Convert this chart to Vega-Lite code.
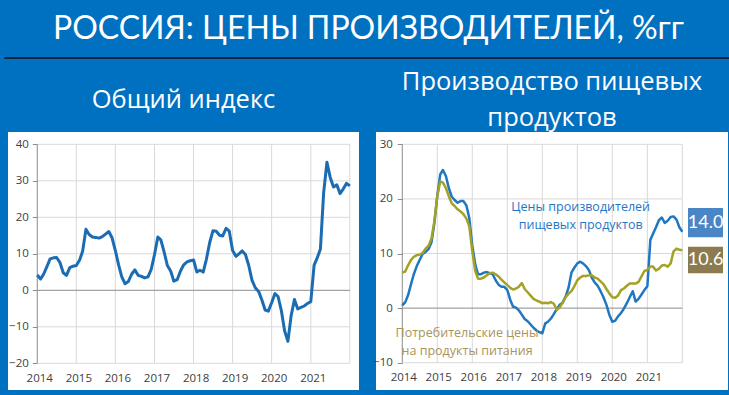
{
  "$schema": "https://vega.github.io/schema/vega-lite/v6.json",
  "background": "#0070c0",
  "padding": {"left": 0, "top": 12, "right": 1, "bottom": 1},
  "bounds": "flush",
  "spacing": 70,
  "config": {
    "view": {"stroke": null},
    "axis": {"labelFont": "Open Sans", "labelColor": "#404040", "labelFontSize": 11.5, "domain": false, "grid": false, "zindex": 1},
    "title": {"color": "white", "fontWeight": "normal", "anchor": "middle"}
  },
  "datasets": {
    "L": [
      {"d": "2014/01/01", "v": 4.2}, {"d": "2014/02/01", "v": 3.1}, {"d": "2014/03/01", "v": 4.4}, {"d": "2014/04/01", "v": 6.5}, {"d": "2014/05/01", "v": 8.6}, {"d": "2014/06/01", "v": 8.9}, {"d": "2014/07/01", "v": 9.0}, {"d": "2014/08/01", "v": 7.6}, {"d": "2014/09/01", "v": 4.8}, {"d": "2014/10/01", "v": 4.1}, {"d": "2014/11/01", "v": 6.2}, {"d": "2014/12/01", "v": 6.6},
      {"d": "2015/01/01", "v": 6.8}, {"d": "2015/02/01", "v": 8.3}, {"d": "2015/03/01", "v": 10.7}, {"d": "2015/04/01", "v": 16.7}, {"d": "2015/05/01", "v": 15.3}, {"d": "2015/06/01", "v": 14.6}, {"d": "2015/07/01", "v": 14.5}, {"d": "2015/08/01", "v": 14.3}, {"d": "2015/09/01", "v": 14.7}, {"d": "2015/10/01", "v": 15.4}, {"d": "2015/11/01", "v": 16.1}, {"d": "2015/12/01", "v": 14.4},
      {"d": "2016/01/01", "v": 10.9}, {"d": "2016/02/01", "v": 6.9}, {"d": "2016/03/01", "v": 3.7}, {"d": "2016/04/01", "v": 1.8}, {"d": "2016/05/01", "v": 2.4}, {"d": "2016/06/01", "v": 4.4}, {"d": "2016/07/01", "v": 5.6}, {"d": "2016/08/01", "v": 4.1}, {"d": "2016/09/01", "v": 3.8}, {"d": "2016/10/01", "v": 3.4}, {"d": "2016/11/01", "v": 3.7}, {"d": "2016/12/01", "v": 5.7},
      {"d": "2017/01/01", "v": 9.8}, {"d": "2017/02/01", "v": 14.6}, {"d": "2017/03/01", "v": 13.8}, {"d": "2017/04/01", "v": 10.5}, {"d": "2017/05/01", "v": 6.8}, {"d": "2017/06/01", "v": 5.3}, {"d": "2017/07/01", "v": 2.5}, {"d": "2017/08/01", "v": 2.9}, {"d": "2017/09/01", "v": 5.3}, {"d": "2017/10/01", "v": 7.0}, {"d": "2017/11/01", "v": 7.8}, {"d": "2017/12/01", "v": 8.1},
      {"d": "2018/01/01", "v": 8.3}, {"d": "2018/02/01", "v": 5.0}, {"d": "2018/03/01", "v": 5.5}, {"d": "2018/04/01", "v": 5.0}, {"d": "2018/05/01", "v": 8.5}, {"d": "2018/06/01", "v": 13.1}, {"d": "2018/07/01", "v": 16.3}, {"d": "2018/08/01", "v": 16.2}, {"d": "2018/09/01", "v": 15.1}, {"d": "2018/10/01", "v": 14.9}, {"d": "2018/11/01", "v": 17.0}, {"d": "2018/12/01", "v": 16.2},
      {"d": "2019/01/01", "v": 10.9}, {"d": "2019/02/01", "v": 9.3}, {"d": "2019/03/01", "v": 10.0}, {"d": "2019/04/01", "v": 10.8}, {"d": "2019/05/01", "v": 9.8}, {"d": "2019/06/01", "v": 6.8}, {"d": "2019/07/01", "v": 2.8}, {"d": "2019/08/01", "v": 0.7}, {"d": "2019/09/01", "v": -0.3}, {"d": "2019/10/01", "v": -2.6}, {"d": "2019/11/01", "v": -5.4}, {"d": "2019/12/01", "v": -5.7},
      {"d": "2020/01/01", "v": -3.4}, {"d": "2020/02/01", "v": -0.9}, {"d": "2020/03/01", "v": -1.7}, {"d": "2020/04/01", "v": -5.6}, {"d": "2020/05/01", "v": -11.1}, {"d": "2020/06/01", "v": -14.0}, {"d": "2020/07/01", "v": -7.0}, {"d": "2020/08/01", "v": -2.5}, {"d": "2020/09/01", "v": -5.1}, {"d": "2020/10/01", "v": -4.7}, {"d": "2020/11/01", "v": -4.3}, {"d": "2020/12/01", "v": -3.6},
      {"d": "2021/01/01", "v": -3.1}, {"d": "2021/02/01", "v": 6.9}, {"d": "2021/03/01", "v": 8.8}, {"d": "2021/04/01", "v": 11.3}, {"d": "2021/05/01", "v": 26.7}, {"d": "2021/06/01", "v": 35.1}, {"d": "2021/07/01", "v": 31.0}, {"d": "2021/08/01", "v": 28.3}, {"d": "2021/09/01", "v": 28.9}, {"d": "2021/10/01", "v": 26.5}, {"d": "2021/11/01", "v": 27.8}, {"d": "2021/12/01", "v": 29.3},
      {"d": "2022/01/01", "v": 28.6}
    ],
    "R": [
      {"d": "2014/01/01", "p": 0.5, "c": 6.5}, {"d": "2014/02/01", "p": 1.1, "c": 6.7}, {"d": "2014/03/01", "p": 2.3, "c": 7.8}, {"d": "2014/04/01", "p": 4.3, "c": 8.8}, {"d": "2014/05/01", "p": 6.2, "c": 9.4}, {"d": "2014/06/01", "p": 7.7, "c": 9.7}, {"d": "2014/07/01", "p": 8.8, "c": 9.8}, {"d": "2014/08/01", "p": 9.9, "c": 10.1}, {"d": "2014/09/01", "p": 10.3, "c": 10.9}, {"d": "2014/10/01", "p": 10.8, "c": 11.4}, {"d": "2014/11/01", "p": 12.0, "c": 12.7}, {"d": "2014/12/01", "p": 15.5, "c": 15.8},
      {"d": "2015/01/01", "p": 20.5, "c": 20.5}, {"d": "2015/02/01", "p": 24.5, "c": 23.2}, {"d": "2015/03/01", "p": 25.3, "c": 23.0}, {"d": "2015/04/01", "p": 24.2, "c": 22.0}, {"d": "2015/05/01", "p": 22.0, "c": 20.5}, {"d": "2015/06/01", "p": 20.4, "c": 19.2}, {"d": "2015/07/01", "p": 19.8, "c": 18.7}, {"d": "2015/08/01", "p": 19.3, "c": 18.1}, {"d": "2015/09/01", "p": 19.6, "c": 17.7}, {"d": "2015/10/01", "p": 19.6, "c": 17.2}, {"d": "2015/11/01", "p": 18.8, "c": 16.4}, {"d": "2015/12/01", "p": 16.5, "c": 15.0},
      {"d": "2016/01/01", "p": 11.5, "c": 10.5}, {"d": "2016/02/01", "p": 8.0, "c": 6.8}, {"d": "2016/03/01", "p": 6.2, "c": 5.4}, {"d": "2016/04/01", "p": 6.2, "c": 5.4}, {"d": "2016/05/01", "p": 6.5, "c": 5.6}, {"d": "2016/06/01", "p": 6.6, "c": 6.0}, {"d": "2016/07/01", "p": 6.4, "c": 6.4}, {"d": "2016/08/01", "p": 6.2, "c": 6.5}, {"d": "2016/09/01", "p": 5.1, "c": 6.2}, {"d": "2016/10/01", "p": 4.3, "c": 5.8}, {"d": "2016/11/01", "p": 3.9, "c": 5.2}, {"d": "2016/12/01", "p": 3.9, "c": 4.7},
      {"d": "2017/01/01", "p": 3.3, "c": 4.2}, {"d": "2017/02/01", "p": 1.5, "c": 3.7}, {"d": "2017/03/01", "p": 0.3, "c": 3.4}, {"d": "2017/04/01", "p": 0.1, "c": 3.6}, {"d": "2017/05/01", "p": -0.4, "c": 3.9}, {"d": "2017/06/01", "p": -1.2, "c": 4.6}, {"d": "2017/07/01", "p": -2.0, "c": 3.5}, {"d": "2017/08/01", "p": -2.4, "c": 2.9}, {"d": "2017/09/01", "p": -3.0, "c": 2.3}, {"d": "2017/10/01", "p": -3.6, "c": 1.7}, {"d": "2017/11/01", "p": -4.1, "c": 1.4}, {"d": "2017/12/01", "p": -4.4, "c": 1.2},
      {"d": "2018/01/01", "p": -4.6, "c": 0.9}, {"d": "2018/02/01", "p": -2.8, "c": 1.0}, {"d": "2018/03/01", "p": -2.5, "c": 0.9}, {"d": "2018/04/01", "p": -1.9, "c": 1.1}, {"d": "2018/05/01", "p": -1.1, "c": 0.8}, {"d": "2018/06/01", "p": -0.2, "c": -0.3}, {"d": "2018/07/01", "p": 0.6, "c": 0.1}, {"d": "2018/08/01", "p": 1.0, "c": 1.0}, {"d": "2018/09/01", "p": 2.1, "c": 2.0}, {"d": "2018/10/01", "p": 3.7, "c": 2.6}, {"d": "2018/11/01", "p": 6.5, "c": 3.1}, {"d": "2018/12/01", "p": 7.4, "c": 4.0},
      {"d": "2019/01/01", "p": 8.2, "c": 5.1}, {"d": "2019/02/01", "p": 8.5, "c": 5.6}, {"d": "2019/03/01", "p": 8.2, "c": 5.9}, {"d": "2019/04/01", "p": 7.7, "c": 5.9}, {"d": "2019/05/01", "p": 7.0, "c": 6.0}, {"d": "2019/06/01", "p": 5.6, "c": 6.0}, {"d": "2019/07/01", "p": 4.7, "c": 5.6}, {"d": "2019/08/01", "p": 4.1, "c": 5.4}, {"d": "2019/09/01", "p": 3.1, "c": 4.9}, {"d": "2019/10/01", "p": 2.0, "c": 4.4}, {"d": "2019/11/01", "p": 0.6, "c": 3.5}, {"d": "2019/12/01", "p": -1.2, "c": 2.7},
      {"d": "2020/01/01", "p": -2.5, "c": 2.0}, {"d": "2020/02/01", "p": -2.3, "c": 1.9}, {"d": "2020/03/01", "p": -1.5, "c": 2.3}, {"d": "2020/04/01", "p": -0.9, "c": 3.3}, {"d": "2020/05/01", "p": -0.1, "c": 3.6}, {"d": "2020/06/01", "p": 0.9, "c": 4.1}, {"d": "2020/07/01", "p": 2.0, "c": 4.5}, {"d": "2020/08/01", "p": 3.1, "c": 4.5}, {"d": "2020/09/01", "p": 1.2, "c": 4.5}, {"d": "2020/10/01", "p": 1.7, "c": 4.8}, {"d": "2020/11/01", "p": 2.5, "c": 5.8}, {"d": "2020/12/01", "p": 3.3, "c": 6.8},
      {"d": "2021/01/01", "p": 4.0, "c": 7.0}, {"d": "2021/02/01", "p": 12.5, "c": 7.6}, {"d": "2021/03/01", "p": 13.6, "c": 7.6}, {"d": "2021/04/01", "p": 14.8, "c": 6.9}, {"d": "2021/05/01", "p": 16.1, "c": 7.2}, {"d": "2021/06/01", "p": 16.6, "c": 7.8}, {"d": "2021/07/01", "p": 15.6, "c": 7.9}, {"d": "2021/08/01", "p": 16.0, "c": 7.6}, {"d": "2021/09/01", "p": 16.7, "c": 8.2}, {"d": "2021/10/01", "p": 16.8, "c": 10.4}, {"d": "2021/11/01", "p": 16.2, "c": 10.9}, {"d": "2021/12/01", "p": 14.8, "c": 10.7},
      {"d": "2022/01/01", "p": 14.0, "c": 10.6}
    ],
    "years": [
      {"d": "2015/01/01"}, {"d": "2016/01/01"}, {"d": "2017/01/01"}, {"d": "2018/01/01"}, {"d": "2019/01/01"}, {"d": "2020/01/01"}, {"d": "2021/01/01"}, {"d": "2022/01/01"}
    ],
    "gridL": [{"v": -20}, {"v": -10}, {"v": 10}, {"v": 20}, {"v": 30}, {"v": 40}],
    "gridR": [{"v": -10}, {"v": 10}, {"v": 20}, {"v": 30}],
    "one": [{}]
  },
  "vconcat": [
    {
      "width": 729,
      "height": 1,
      "view": {"stroke": "#15253f", "strokeWidth": 1, "fill": null},
      "title": {"text": "РОССИЯ: ЦЕНЫ ПРОИЗВОДИТЕЛЕЙ, %гг", "font": "Lato", "fontSize": 32, "offset": 6},
      "data": {"name": "one"},
      "mark": {"type": "text"},
      "encoding": {"text": {"value": ""}}
    },
    {
      "bounds": "flush",
      "spacing": 9,
      "hconcat": [
        {
          "width": 359,
          "height": 266,
          "view": {"fill": "white", "stroke": "#0070c0", "strokeWidth": 8},
          "title": {"text": "Общий индекс", "font": "Open Sans", "fontSize": 25.5, "offset": 15},
          "layer": [
            {
              "data": {"name": "gridL"},
              "mark": {"type": "rule", "color": "#d9d9d9", "strokeWidth": 1},
              "encoding": {
                "y": {"field": "v", "type": "quantitative"},
                "x": {"datum": {"year": 2014, "month": 1, "date": 1}, "type": "temporal"},
                "x2": {"datum": {"year": 2022, "month": 1, "date": 1}}
              }
            },
            {
              "data": {"name": "years"},
              "mark": {"type": "rule", "color": "#d9d9d9", "strokeWidth": 1},
              "encoding": {
                "x": {"field": "d", "type": "temporal"},
                "y": {"datum": -20, "type": "quantitative"},
                "y2": {"datum": 40}
              }
            },
            {
              "data": {"name": "one"},
              "mark": {"type": "rule", "color": "#8c8c8c", "strokeWidth": 1},
              "encoding": {
                "y": {"datum": 0, "type": "quantitative"},
                "x": {"datum": {"year": 2014, "month": 1, "date": 1}, "type": "temporal"},
                "x2": {"datum": {"year": 2022, "month": 1, "date": 1}}
              }
            },
            {
              "data": {"name": "one"},
              "mark": {"type": "rule", "color": "#8c8c8c", "strokeWidth": 1},
              "encoding": {
                "x": {"datum": {"year": 2014, "month": 1, "date": 1}, "type": "temporal"},
                "y": {"datum": -20, "type": "quantitative"},
                "y2": {"datum": 40}
              }
            },
            {
              "data": {"name": "L"},
              "mark": {"type": "line", "color": "#1c6cb4", "strokeWidth": 3, "strokeJoin": "round"},
              "encoding": {
                "x": {
                  "field": "d", "type": "temporal", "title": null,
                  "scale": {"domain": [{"year": 2013, "month": 2, "date": 24}, {"year": 2022, "month": 5, "date": 4}], "nice": false},
                  "axis": {"orient": "bottom", "offset": -30.7, "values": [{"year": 2014, "month": 1, "date": 1}, {"year": 2015, "month": 1, "date": 1}, {"year": 2016, "month": 1, "date": 1}, {"year": 2017, "month": 1, "date": 1}, {"year": 2018, "month": 1, "date": 1}, {"year": 2019, "month": 1, "date": 1}, {"year": 2020, "month": 1, "date": 1}, {"year": 2021, "month": 1, "date": 1}], "format": "%Y", "ticks": false, "labelPadding": 9, "labelOverlap": false, "labelFlush": false, "labelOffset": 2}
                },
                "y": {
                  "field": "v", "type": "quantitative", "title": null,
                  "scale": {"domain": [-28.41, 44.47], "nice": false, "zero": false},
                  "axis": {"orient": "left", "offset": -33.3, "values": [-20, -10, 0, 10, 20, 30, 40], "ticks": true, "tickColor": "#8c8c8c", "tickSize": 5, "labelPadding": 4}
                }
              }
            }
          ]
        },
        {
          "width": 360,
          "height": 266,
          "view": {"fill": "white", "stroke": "#0070c0", "strokeWidth": 8},
          "title": {"text": ["Производство пищевых", "продуктов"], "font": "Open Sans", "fontSize": 25.5, "lineHeight": 36, "offset": -3},
          "layer": [
            {
              "data": {"name": "gridR"},
              "mark": {"type": "rule", "color": "#d9d9d9", "strokeWidth": 1},
              "encoding": {
                "y": {"field": "v", "type": "quantitative"},
                "x": {"datum": {"year": 2014, "month": 1, "date": 1}, "type": "temporal"},
                "x2": {"datum": {"year": 2022, "month": 1, "date": 1}}
              }
            },
            {
              "data": {"name": "years"},
              "mark": {"type": "rule", "color": "#d9d9d9", "strokeWidth": 1},
              "encoding": {
                "x": {"field": "d", "type": "temporal"},
                "y": {"datum": -10, "type": "quantitative"},
                "y2": {"datum": 30}
              }
            },
            {
              "data": {"name": "one"},
              "mark": {"type": "rule", "color": "#8c8c8c", "strokeWidth": 1},
              "encoding": {
                "y": {"datum": 0, "type": "quantitative"},
                "x": {"datum": {"year": 2014, "month": 1, "date": 1}, "type": "temporal"},
                "x2": {"datum": {"year": 2022, "month": 1, "date": 1}}
              }
            },
            {
              "data": {"name": "one"},
              "mark": {"type": "rule", "color": "#8c8c8c", "strokeWidth": 1},
              "encoding": {
                "x": {"datum": {"year": 2014, "month": 1, "date": 1}, "type": "temporal"},
                "y": {"datum": -10, "type": "quantitative"},
                "y2": {"datum": 30}
              }
            },
            {
              "data": {"name": "R"},
              "mark": {"type": "line", "color": "#1f77c4", "strokeWidth": 2.5, "strokeJoin": "round"},
              "encoding": {
                "x": {
                  "field": "d", "type": "temporal", "title": null,
                  "scale": {"domain": [{"year": 2013, "month": 2, "date": 19}, {"year": 2023, "month": 6, "date": 3}], "nice": false},
                  "axis": {"orient": "bottom", "offset": -31.3, "values": [{"year": 2014, "month": 1, "date": 1}, {"year": 2015, "month": 1, "date": 1}, {"year": 2016, "month": 1, "date": 1}, {"year": 2017, "month": 1, "date": 1}, {"year": 2018, "month": 1, "date": 1}, {"year": 2019, "month": 1, "date": 1}, {"year": 2020, "month": 1, "date": 1}, {"year": 2021, "month": 1, "date": 1}], "format": "%Y", "ticks": false, "labelPadding": 9, "labelOverlap": false, "labelFlush": false, "labelOffset": 1}
                },
                "y": {
                  "field": "p", "type": "quantitative", "title": null,
                  "scale": {"domain": [-15.73, 32.99], "nice": false, "zero": false},
                  "axis": {"orient": "left", "offset": -30.3, "values": [-10, 0, 10, 20, 30], "ticks": true, "tickColor": "#8c8c8c", "tickSize": 5, "labelPadding": 5}
                }
              }
            },
            {
              "data": {"name": "R"},
              "mark": {"type": "line", "color": "#a4a224", "strokeWidth": 2.5, "strokeJoin": "round"},
              "encoding": {
                "x": {"field": "d", "type": "temporal"},
                "y": {"field": "c", "type": "quantitative"}
              }
            },
            {
              "data": {"name": "one"},
              "mark": {"type": "text", "color": "#1f77c4", "font": "Open Sans", "fontSize": 12.5, "lineHeight": 18, "align": "center", "baseline": "middle"},
              "encoding": {
                "x": {"datum": {"year": 2019, "month": 2, "date": 5}, "type": "temporal"},
                "y": {"datum": 18.5, "type": "quantitative"},
                "text": {"value": ["Цены производителей", "пищевых продуктов"]}
              }
            },
            {
              "data": {"name": "one"},
              "mark": {"type": "text", "color": "#a8945c", "font": "Open Sans", "fontSize": 12.5, "lineHeight": 18, "align": "center", "baseline": "middle"},
              "encoding": {
                "x": {"datum": {"year": 2015, "month": 11, "date": 8}, "type": "temporal"},
                "y": {"datum": -4.6, "type": "quantitative"},
                "text": {"value": ["Потребительские цены", "на продукты питания"]}
              }
            },
            {
              "data": {"name": "one"},
              "mark": {"type": "rect", "color": "#4a86c6"},
              "encoding": {
                "x": {"datum": {"year": 2022, "month": 3, "date": 1}, "type": "temporal"},
                "x2": {"datum": {"year": 2023, "month": 3, "date": 1}},
                "y": {"datum": 18.33, "type": "quantitative"},
                "y2": {"datum": 13.0}
              }
            },
            {
              "data": {"name": "one"},
              "mark": {"type": "rect", "color": "#8c7b50"},
              "encoding": {
                "x": {"datum": {"year": 2022, "month": 3, "date": 1}, "type": "temporal"},
                "x2": {"datum": {"year": 2023, "month": 3, "date": 1}},
                "y": {"datum": 11.25, "type": "quantitative"},
                "y2": {"datum": 6.37}
              }
            },
            {
              "data": {"name": "one"},
              "mark": {"type": "text", "color": "white", "font": "Lato", "fontSize": 18, "align": "center", "baseline": "middle"},
              "encoding": {
                "x": {"datum": {"year": 2022, "month": 9, "date": 1}, "type": "temporal"},
                "y": {"datum": 15.68, "type": "quantitative"},
                "text": {"value": "14.0"}
              }
            },
            {
              "data": {"name": "one"},
              "mark": {"type": "text", "color": "white", "font": "Lato", "fontSize": 18, "align": "center", "baseline": "middle"},
              "encoding": {
                "x": {"datum": {"year": 2022, "month": 9, "date": 1}, "type": "temporal"},
                "y": {"datum": 8.81, "type": "quantitative"},
                "text": {"value": "10.6"}
              }
            }
          ]
        }
      ]
    }
  ]
}
